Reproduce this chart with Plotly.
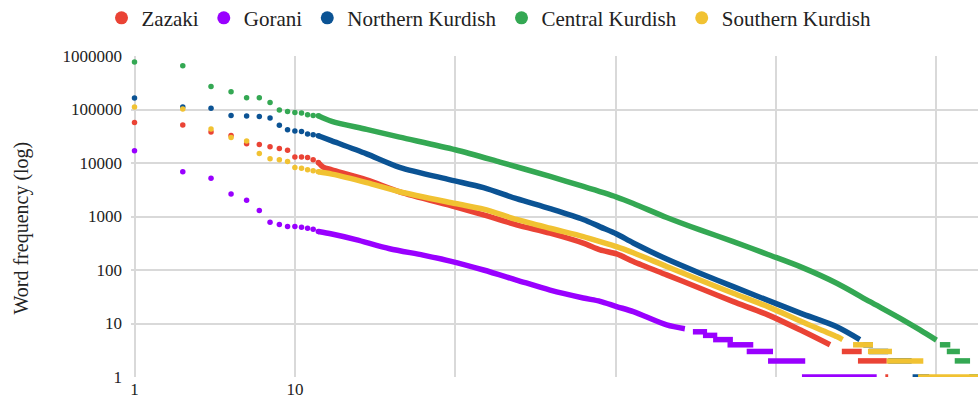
import plotly.graph_objects as go

# ---------------- data ----------------
series_names = ["Zazaki", "Gorani", "Northern Kurdish", "Central Kurdish", "Southern Kurdish"]
series_colors = ["#EA4335", "#9900FF", "#0B5394", "#34A853", "#F1C232"]

head_ranks = [1, 2, 3, 4, 5, 6, 7, 8, 9, 10, 11, 12, 13, 14]
zazaki_head = [57300, 51200, 37800, 32700, 22900, 22200, 20100, 18700, 17400, 13000, 12900, 12700, 11500, 10200]
gorani_head = [16900, 6840, 5210, 2620, 2020, 1290, 784, 708, 649, 650, 631, 605, 580, 523]
northern_head = [164000, 111000, 105000, 77400, 76000, 74000, 69000, 51000, 41800, 39500, 38800, 34700, 33700, 32300]
central_head = [773000, 658000, 270000, 215000, 166000, 166000, 135000, 97700, 92000, 88000, 85800, 79800, 77400, 76400]
southern_head = [111000, 102000, 43000, 30000, 25700, 15100, 12000, 11500, 10700, 8240, 8020, 7460, 7150, 6840]

# continuous part of each rank/frequency curve
zazaki_curve_ranks = [14, 15, 17, 28, 45, 100, 150, 241, 390, 628, 800, 1014, 1288, 2080, 3355, 5410, 8900, 14500, 21700]
zazaki_curve_freq = [10200, 8380, 7460, 4850, 2900, 1520, 1070, 698, 487, 317, 238, 200, 144, 81, 45.6, 25.6, 14.5, 7.3, 4]
gorani_curve_ranks = [14, 17, 24, 39, 63, 93, 150, 241, 390, 628, 800, 1014, 1288, 2080, 2700]
gorani_curve_freq = [523, 470, 370, 250, 190, 147, 100, 65, 42, 30, 26, 20.7, 16.7, 9.4, 8]
northern_curve_ranks = [14, 17, 28, 45, 93, 150, 241, 390, 628, 800, 1014, 1288, 2080, 3355, 5410, 8900, 14300, 23900, 33300]
northern_curve_freq = [32300, 26000, 14800, 8300, 4850, 3450, 2150, 1400, 880, 640, 470, 320, 160, 87, 49, 27, 15.5, 8.7, 5]
central_curve_ranks = [14, 17, 28, 45, 100, 190, 390, 628, 1014, 1288, 2080, 3355, 5410, 8900, 14500, 23900, 38500, 62100, 78900, 100000]
central_curve_freq = [76400, 60000, 42500, 30500, 17700, 10400, 5600, 3640, 2300, 1750, 960, 562, 340, 195, 112, 56.6, 25.6, 11.6, 7.6, 4.9]
southern_curve_ranks = [14, 17, 28, 45, 100, 150, 241, 390, 628, 800, 1014, 1288, 2080, 3355, 5410, 8900, 14500, 23900, 26000]
southern_curve_freq = [6840, 6200, 4300, 2900, 1750, 1370, 880, 603, 422, 340, 274, 210, 116, 65, 36.8, 20.7, 10.8, 5.7, 5]

# low-frequency plateaus: (frequency, first rank, last rank)
zazaki_steps = [(3, 25700, 34200), (2, 32400, 49000), (1, 48000, 50000)]
gorani_steps = [(7, 3030, 3715), (6, 3500, 4300), (5, 4050, 5380), (4, 4980, 7210),
                (3, 6560, 9570), (2, 8910, 15200), (1, 14500, 42400)]
northern_steps = [(4, 35000, 40200), (3, 38000, 50000), (2, 50000, 70000), (1, 71000, 90000)]
central_steps = [(4, 105000, 122000), (3, 116000, 140000), (2, 130000, 162000), (1, 160000, 190000)]
southern_steps = [(4, 30200, 40200), (3, 37400, 52800), (2, 49000, 82800), (1, 76800, 200000)]

x_tick_vals = [1, 10, 100, 1000, 10000, 100000]
x_tick_text = ["1", "10", "", "", "", ""]
y_tick_vals = [1, 10, 100, 1000, 10000, 100000, 1000000]
y_tick_text = ["1", "10", "100", "1000", "10000", "100000", "1000000"]

heads = [zazaki_head, gorani_head, northern_head, central_head, southern_head]
curves = [(zazaki_curve_ranks, zazaki_curve_freq), (gorani_curve_ranks, gorani_curve_freq),
          (northern_curve_ranks, northern_curve_freq), (central_curve_ranks, central_curve_freq),
          (southern_curve_ranks, southern_curve_freq)]
steps_all = [zazaki_steps, gorani_steps, northern_steps, central_steps, southern_steps]

# ---------------- figure ----------------
MS = 5.5
FONT = "Liberation Serif"
fig = go.Figure()
for name, color, head, (cr, cf), steps in zip(series_names, series_colors, heads, curves, steps_all):
    fig.add_trace(go.Scatter(x=list(cr), y=list(cf), mode="lines",
                             line=dict(color=color, width=MS, shape="spline", smoothing=0.8),
                             legendgroup=name, showlegend=False, hoverinfo="skip"))
    sx, sy = [], []
    for f, a, b in steps:
        sx += [a, b, None]
        sy += [f, f, None]
    fig.add_trace(go.Scatter(x=sx, y=sy, mode="lines", line=dict(color=color, width=MS),
                             legendgroup=name, showlegend=False, hoverinfo="skip",
                             connectgaps=False))
    fig.add_trace(go.Scatter(x=head_ranks, y=head, mode="markers", name=name,
                             marker=dict(color=color, size=MS, line=dict(width=0)),
                             legendgroup=name, showlegend=False))
    # legend entry (bigger symbol, no data drawn)
    fig.add_trace(go.Scatter(x=[None], y=[None], mode="markers", name=name,
                             marker=dict(color=color, size=13, line=dict(width=0)),
                             legendgroup=name, showlegend=True))

fig.update_layout(
    width=978, height=404,
    margin=dict(l=131, r=0, t=56, b=27),
    plot_bgcolor="white", paper_bgcolor="white",
    font=dict(family=FONT, size=17, color="#222222"),
    legend=dict(orientation="h", xref="container", yref="container",
                x=0.5, xanchor="center", y=0.955, yanchor="middle",
                itemsizing="trace", font=dict(size=21, color="#222222"), traceorder="normal"),
    annotations=[dict(text="Word frequency (log)", textangle=-90, xref="paper", yref="paper",
                      x=-0.1287, y=0.4657, xanchor="center", yanchor="middle",
                      showarrow=False, font=dict(size=20, family=FONT, color="#222222"))],
)
fig.update_xaxes(type="log", range=[-0.0218, 5.259], tickvals=x_tick_vals, ticktext=x_tick_text,
                 showgrid=True, gridcolor="#d9d9d9", gridwidth=1.5, zeroline=False,
                 showline=False, ticks="")
fig.update_yaxes(type="log", range=[0, 6], tickvals=y_tick_vals, ticktext=y_tick_text,
                 showgrid=True, gridcolor="#d9d9d9", gridwidth=1.5, zeroline=False,
                 showline=False, ticks="", ticklabelstandoff=8)

fig.write_html("out.html")
